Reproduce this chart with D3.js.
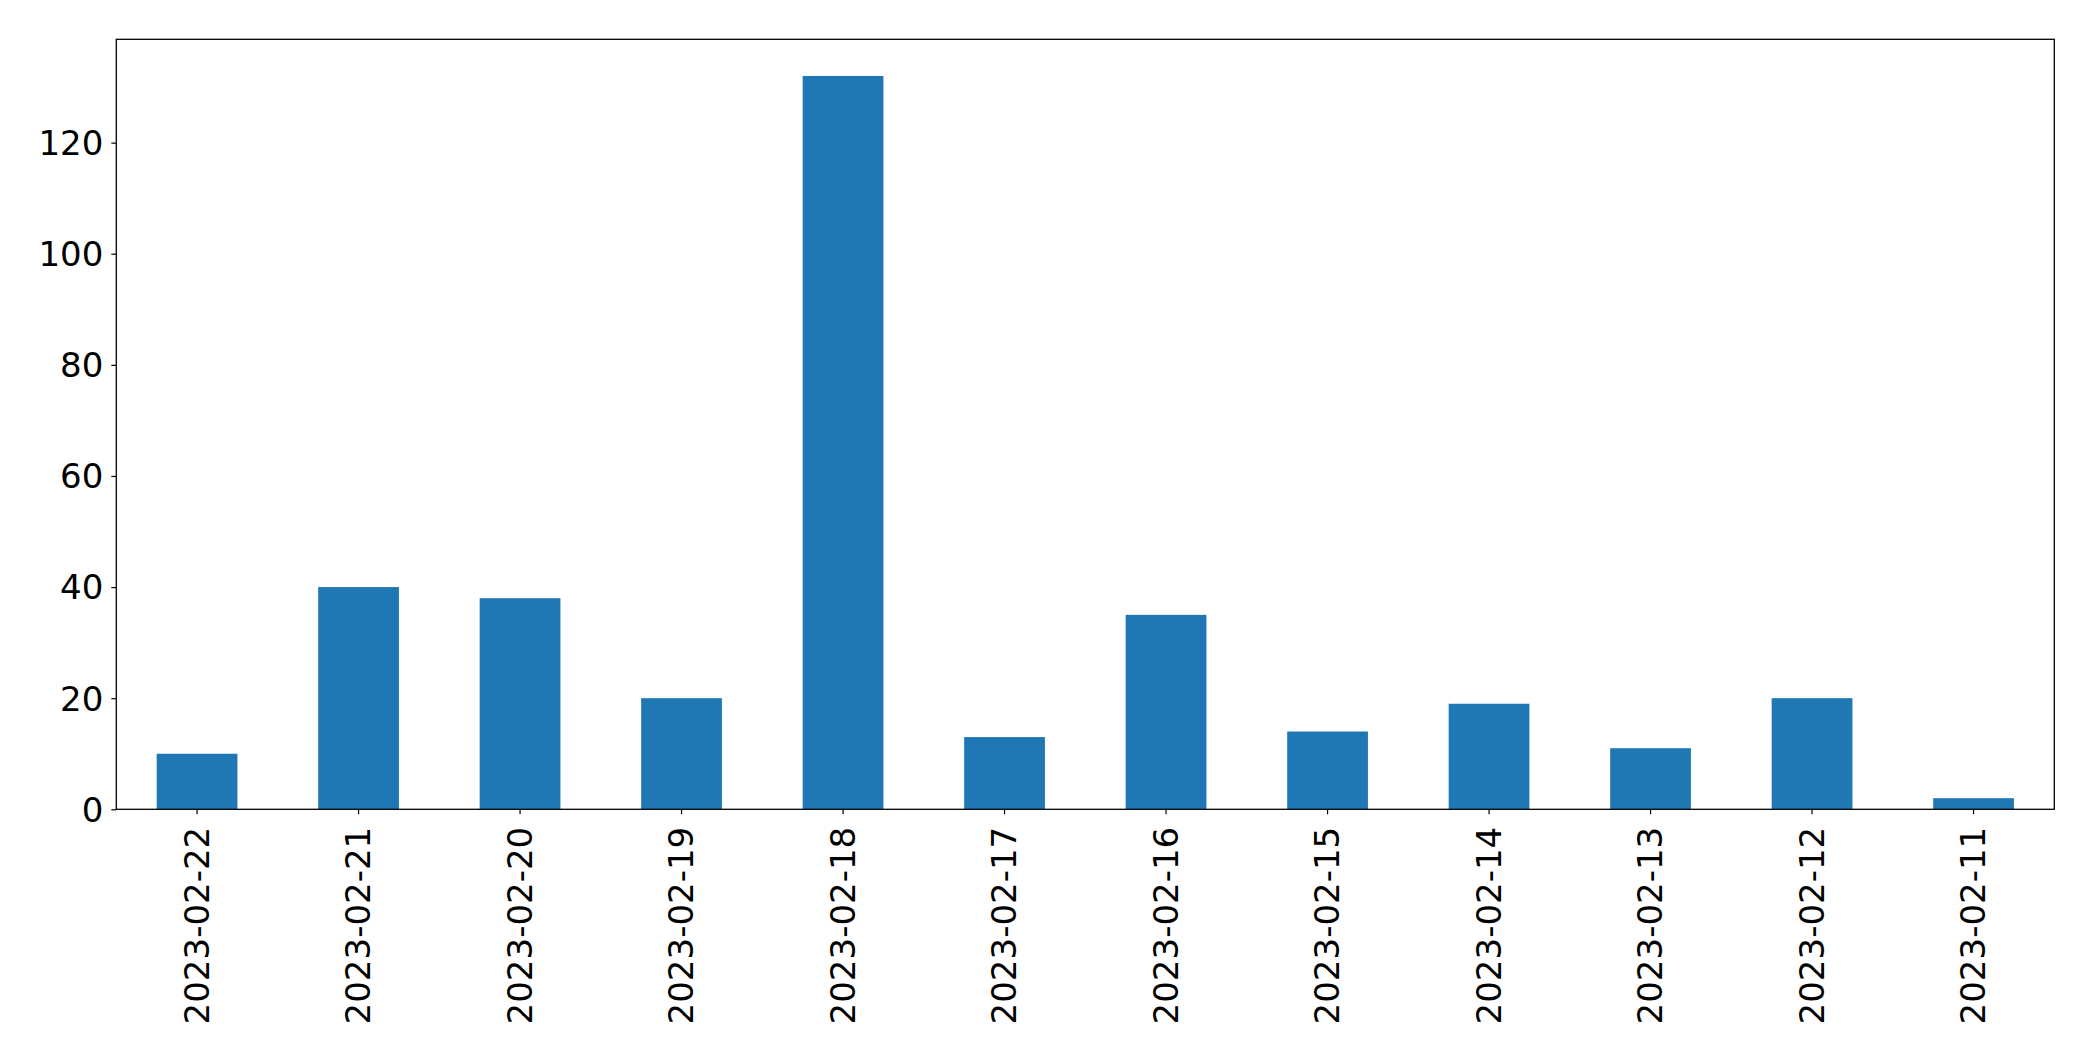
<!DOCTYPE html>
<html>
<head>
<meta charset="utf-8">
<script src="https://cdn.jsdelivr.net/npm/d3@7"></script>
<style>
  html, body { margin: 0; padding: 0; background: #fff; }
  svg { display: block; }
  text { font-family: "DejaVu Sans", sans-serif; fill: #000; }
</style>
</head>
<body>
<svg id="chart" width="2093" height="1061"></svg>
<script>
const categories = ["2023-02-22","2023-02-21","2023-02-20","2023-02-19","2023-02-18","2023-02-17","2023-02-16","2023-02-15","2023-02-14","2023-02-13","2023-02-12","2023-02-11"];
const values = [10, 40, 38, 20, 132, 13, 35, 14, 19, 11, 20, 2];
const yTicks = [0, 20, 40, 60, 80, 100, 120];

const svg = d3.select("#chart");
const margin = {left: 116.3, top: 39.3, right: 2093 - 2054.3, bottom: 1061 - 809.3};
const W = 2093 - margin.left - margin.right;
const H = 1061 - margin.top - margin.bottom;
const g = svg.append("g").attr("transform", `translate(${margin.left},${margin.top})`);

const x = d3.scaleBand().domain(categories).range([0, W]).paddingInner(0.5).paddingOuter(0.25);
const yMax = d3.max(values) * 1.05;
const y = d3.scaleLinear().domain([0, yMax]).range([H, 0]);

g.selectAll("rect.bar").data(values).join("rect")
  .attr("class", "bar")
  .attr("x", (d, i) => x(categories[i]))
  .attr("y", d => y(d))
  .attr("width", x.bandwidth())
  .attr("height", d => y(0) - y(d))
  .attr("fill", "#1f77b4");

const fs = 34;
const yAxis = g.append("g").call(d3.axisLeft(y).tickValues(yTicks).tickSize(5).tickPadding(8).tickFormat(d3.format("d")));
yAxis.select(".domain").remove();
yAxis.selectAll("line").attr("stroke", "#000").attr("stroke-width", 1.2);
yAxis.selectAll("text").attr("font-size", fs).attr("font-family", "DejaVu Sans").attr("dy", "0.35em");

const xAxis = g.append("g").attr("transform", `translate(0,${H})`).call(d3.axisBottom(x).tickSize(5).tickPadding(0));
xAxis.select(".domain").remove();
xAxis.selectAll("line").attr("stroke", "#000").attr("stroke-width", 1.2);
xAxis.selectAll("text")
  .attr("font-size", fs)
  .attr("font-family", "DejaVu Sans")
  .attr("transform", "rotate(-90)")
  .attr("text-anchor", "end")
  .attr("x", -17.5)
  .attr("y", 0)
  .attr("dy", "0.35em");

g.append("rect").attr("x", 0).attr("y", 0).attr("width", W).attr("height", H)
  .attr("fill", "none").attr("stroke", "#000").attr("stroke-width", 1.3);
</script>
</body>
</html>
